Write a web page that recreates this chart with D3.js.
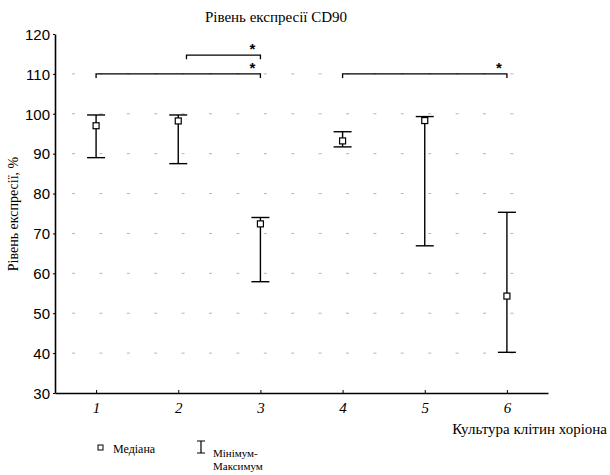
<!DOCTYPE html>
<html>
<head>
<meta charset="utf-8">
<script src="https://cdn.jsdelivr.net/npm/d3@7"></script>
<style>
  body { margin: 0; background: #fff; }
  text { fill: #000; }
  .serif { font-family: "Liberation Serif", "DejaVu Serif", "Times New Roman", serif; }
  .sans { font-family: "Liberation Sans", Arial, "DejaVu Sans", sans-serif; }
</style>
</head>
<body>
<svg id="chart" width="610" height="475"></svg>
<script>
// data
const categories = ['1', '2', '3', '4', '5', '6'];
const medians = [97.0, 98.2, 72.4, 93.2, 98.3, 54.3];
const mins = [89.0, 87.5, 57.9, 91.7, 66.9, 40.2];
const maxs = [99.7, 99.7, 74.0, 95.5, 99.3, 75.3];
const yTicks = [30, 40, 50, 60, 70, 80, 90, 100, 110, 120];
const gridValues = [40, 50, 60, 70, 80, 90, 100, 110];
// significance brackets: from / to category position, level in %
const brFrom = [1, 2.1, 4];
const brTo = [3, 3, 6];
const brLevel = [110, 114.7, 110];

const svg = d3.select('#chart');
const x = d3.scaleLinear().domain([0.5, 6.5]).range([55, 548]);
const y = d3.scaleLinear().domain([30, 120]).range([393, 34]);

// dotted grid
svg.append('g').selectAll('line').data(gridValues).enter().append('line')
  .attr('x1', 72).attr('x2', 530)
  .attr('y1', d => y(d)).attr('y2', d => y(d))
  .attr('stroke', '#b5b5b5').attr('stroke-width', 1)
  .attr('stroke-dasharray', '3,24.4');

// axes
const yAxis = svg.append('g').attr('transform', `translate(${x(0.5)},0)`)
  .call(d3.axisLeft(y).tickValues(yTicks).tickSize(2).tickSizeOuter(0));
yAxis.select('.domain').attr('stroke-width', 1.6);
yAxis.selectAll('.tick text').attr('class', 'sans').attr('font-family', null).attr('font-size', 15)
  .attr('x', -5).attr('dy', '0.35em');

const xAxis = svg.append('g').attr('transform', `translate(0,${y(30)})`)
  .call(d3.axisBottom(x).tickValues(d3.range(1, 7)).tickFormat((d, i) => categories[i])
    .tickSize(-3).tickSizeOuter(0));
xAxis.select('.domain').attr('stroke-width', 1.6);
xAxis.selectAll('.tick text').attr('class', 'serif').attr('font-family', null).attr('font-style', 'italic')
  .attr('font-size', 15).attr('dy', '1.15em');

// whiskers
const g = svg.append('g').attr('stroke', '#000').attr('stroke-width', 1.4).attr('fill', 'none');
categories.forEach((c, i) => {
  const cx = x(i + 1);
  g.append('line').attr('x1', cx).attr('x2', cx).attr('y1', y(maxs[i])).attr('y2', y(mins[i]));
  g.append('line').attr('x1', cx - 9).attr('x2', cx + 9).attr('y1', y(maxs[i])).attr('y2', y(maxs[i]));
  g.append('line').attr('x1', cx - 9).attr('x2', cx + 9).attr('y1', y(mins[i])).attr('y2', y(mins[i]));
  g.append('rect').attr('x', cx - 3).attr('y', y(medians[i]) - 3).attr('width', 6).attr('height', 6)
    .attr('fill', '#fff').attr('stroke-width', 1.2);
});

// significance brackets
brFrom.forEach((f, i) => {
  const x1 = x(f), x2 = x(brTo[i]), yy = y(brLevel[i]);
  svg.append('path').attr('d', `M${x1},${yy + 4}V${yy}H${x2}V${yy + 4}`)
    .attr('fill', 'none').attr('stroke', '#000').attr('stroke-width', 1.3);
  svg.append('text').attr('class', 'sans').attr('x', x2 - 8).attr('y', yy - 1).attr('text-anchor', 'middle')
    .attr('font-weight', 'bold').attr('font-size', 15).text('*');
});

// titles
svg.append('text').attr('class', 'serif').attr('x', 276).attr('y', 22).attr('text-anchor', 'middle')
  .attr('font-size', 15).text('Рівень експресії CD90');
svg.append('text').attr('class', 'serif').attr('transform', 'translate(18,214) rotate(-90)')
  .attr('text-anchor', 'middle').attr('font-size', 14).text('Рівень експресії, %');
svg.append('text').attr('class', 'serif').attr('x', 607).attr('y', 434).attr('text-anchor', 'end')
  .attr('font-size', 15).text('Культура клітин хоріона');

// legend
svg.append('rect').attr('x', 98).attr('y', 445).attr('width', 5).attr('height', 5)
  .attr('fill', '#fff').attr('stroke', '#000').attr('stroke-width', 1);
svg.append('text').attr('class', 'serif').attr('x', 113).attr('y', 453)
  .attr('font-size', 12).text('Медіана');
svg.append('path').attr('d', 'M197,441H205M201,441V453M197,453H205')
  .attr('stroke', '#000').attr('stroke-width', 1.2).attr('fill', 'none');
svg.append('text').attr('class', 'serif').attr('x', 213).attr('y', 457)
  .attr('font-size', 11).text('Мінімум-');
svg.append('text').attr('class', 'serif').attr('x', 213).attr('y', 470)
  .attr('font-size', 11).text('Максимум');
</script>
</body>
</html>
